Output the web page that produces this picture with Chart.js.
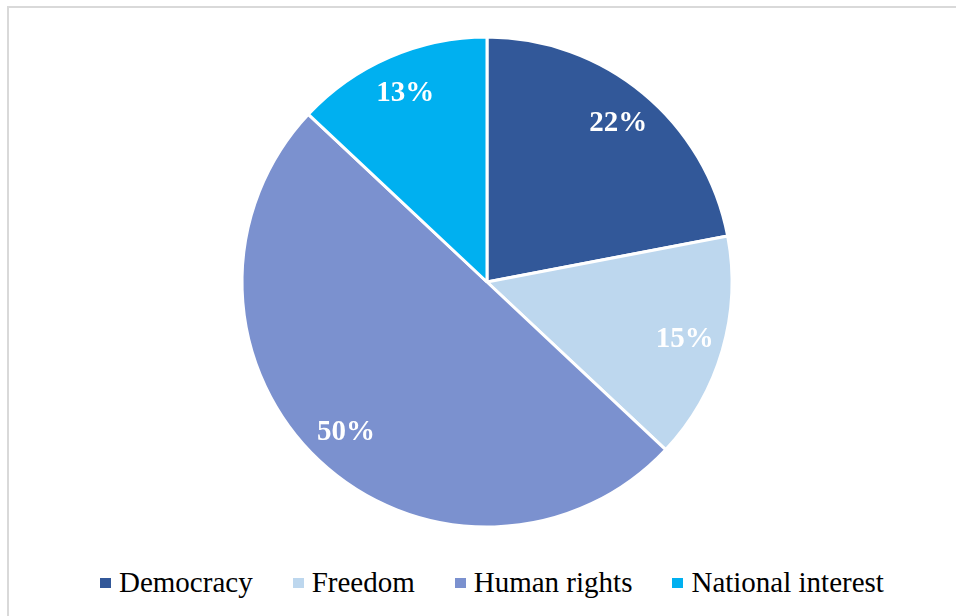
<!DOCTYPE html>
<html>
<head>
<meta charset="utf-8">
<script src="https://cdn.jsdelivr.net/npm/chart.js@4/dist/chart.umd.min.js"></script>
<style>
  html, body { margin: 0; padding: 0; background: #fff; overflow: hidden; }
  body { width: 956px; height: 616px; position: relative; font-family: "Liberation Serif", "Times New Roman", serif; }
  .frame { position: absolute; left: 7px; top: 6px; width: 1000px; height: 700px; border: 2px solid #d9d9d9; box-sizing: border-box; }
  .plot { position: absolute; left: 0; top: 0; width: 956px; height: 560px; }
  .legend { position: absolute; left: 100px; top: 568px; display: flex; font-size: 29px; line-height: 29px; color: #000; white-space: nowrap; }
  .legend li { display: flex; align-items: center; margin-right: 40px; }
  .legend ul { display: flex; margin: 0; padding: 0; list-style: none; }
  .legend .box { display: inline-block; width: 11px; height: 10px; margin-right: 8px; }
</style>
</head>
<body>
<div class="frame"></div>
<div class="plot"><canvas id="pie"></canvas></div>
<div class="legend"><ul id="pie-legend"></ul></div>
<script>
var labels = ["Democracy", "Freedom", "Human rights", "National interest"];
var shares = [22, 15, 50, 13];
var colors = ["#325899", "#bdd7ee", "#7b91cf", "#00b0f0"];

// percentage text inside each slice, along the mid angle
var sliceLabels = {
  id: "sliceLabels",
  afterDatasetsDraw: function (chart) {
    var ctx = chart.ctx;
    var meta = chart.getDatasetMeta(0);
    ctx.save();
    ctx.fillStyle = "#fff";
    ctx.font = "bold 29px 'Liberation Serif', 'Times New Roman', serif";
    ctx.textAlign = "center";
    ctx.textBaseline = "middle";
    meta.data.forEach(function (arc, i) {
      var p = arc.getProps(["x", "y", "startAngle", "endAngle", "outerRadius"], true);
      var mid = (p.startAngle + p.endAngle) / 2;
      var r = p.outerRadius * 0.84;
      ctx.fillText(shares[i] + "%", p.x + Math.cos(mid) * r, p.y + Math.sin(mid) * r);
    });
    ctx.restore();
  }
};

function renderLegend() {
  var list = document.getElementById("pie-legend");
  list.innerHTML = labels.map(function (l, i) {
    return '<li><span class="box" style="background:' + colors[i] + '"></span>' + l + '</li>';
  }).join("");
}

new Chart(document.getElementById("pie"), {
  type: "pie",
  data: {
    labels: labels,
    datasets: [{ data: shares, backgroundColor: colors, borderColor: "#fff", borderWidth: 3 }]
  },
  options: {
    responsive: true,
    maintainAspectRatio: false,
    animation: false,
    radius: 245,
    layout: { padding: { left: 18, top: 4 } },
    plugins: { legend: { display: false }, tooltip: { enabled: false } }
  },
  plugins: [sliceLabels]
});

renderLegend();
</script>
</body>
</html>
